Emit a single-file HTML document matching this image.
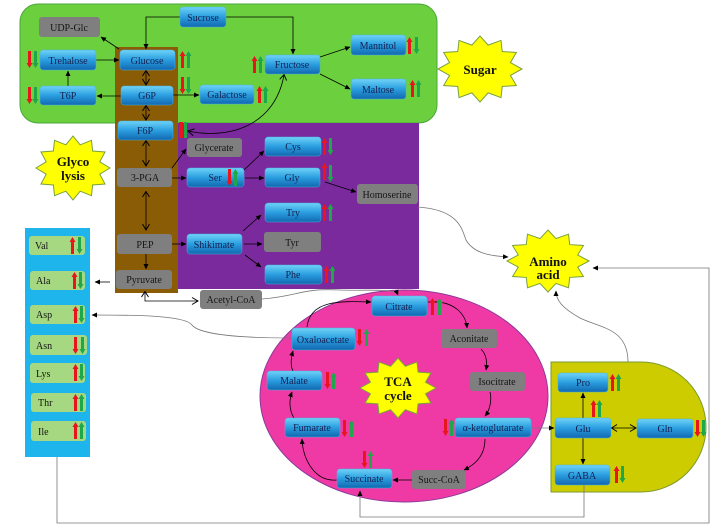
<!DOCTYPE html>
<html><head><meta charset="utf-8"><style>
html,body{margin:0;padding:0;background:#fff;}
svg{display:block;font-family:"Liberation Serif",serif;}
</style></head><body>
<svg width="721" height="529" viewBox="0 0 721 529" xmlns="http://www.w3.org/2000/svg">
<defs>
<linearGradient id="bg" x1="0" y1="0" x2="0" y2="1">
<stop offset="0" stop-color="#6fd3f7"/><stop offset="0.5" stop-color="#2a9ee0"/><stop offset="1" stop-color="#1268b0"/>
</linearGradient>
<marker id="a" markerWidth="6" markerHeight="6" refX="5" refY="3" orient="auto" markerUnits="userSpaceOnUse"><path d="M0,0.5 L5.5,3 L0,5.5z" fill="#000"/></marker>
<marker id="as" markerWidth="8" markerHeight="8" refX="1" refY="4" orient="auto" markerUnits="userSpaceOnUse"><path d="M6,0.5 L0.5,4 L6,7.5" fill="none" stroke="#000"/></marker>
<marker id="ae" markerWidth="8" markerHeight="8" refX="7" refY="4" orient="auto" markerUnits="userSpaceOnUse"><path d="M1,0.5 L7,4 L1,7.5" fill="none" stroke="#000"/></marker>
<g id="ru"><polygon points="1,5 1,17 4,17 4,5 5.5,5 2.5,0 -0.5,5" fill="#e8141e"/></g>
<g id="rd"><polygon points="1,0 1,12 -0.5,12 2.5,17 5.5,12 4,12 4,0" fill="#e8141e"/></g>
<g id="gu"><polygon points="1,5 1,17 4,17 4,5 5.5,5 2.5,0 -0.5,5" fill="#1ea84a"/></g>
<g id="gd"><polygon points="1,0 1,12 -0.5,12 2.5,17 5.5,12 4,12 4,0" fill="#1ea84a"/></g>
<polygon id="star" vector-effect="non-scaling-stroke" fill="#ffff00" stroke="#7aa040" stroke-width="1" points="1,0 .724,.194 .866,.5 .53,.53 .5,.866 .194,.724 0,1 -.194,.724 -.5,.866 -.53,.53 -.866,.5 -.724,.194 -1,0 -.724,-.194 -.866,-.5 -.53,-.53 -.5,-.866 -.194,-.724 0,-1 .194,-.724 .5,-.866 .53,-.53 .866,-.5 .724,-.194"/>
</defs>

<!-- regions -->
<rect x="20" y="4" width="417" height="119" rx="18" fill="#6cd03e" stroke="#4aa63a" stroke-width="1"/>
<rect x="178" y="123" width="241" height="166" fill="#7b2a9e"/>
<rect x="115" y="47" width="63" height="246" fill="#8a5c05"/>
<ellipse cx="404" cy="396" rx="144" ry="106" fill="#ef3aa5" stroke="#8a3a9a" stroke-width="1"/>
<path d="M551,362 H641 A65,65 0 0 1 641,492 H551 Z" fill="#cccc00" stroke="#7a9a30" stroke-width="1"/>
<rect x="25" y="228" width="65" height="229" fill="#1eb4ec"/>

<!-- stars -->
<use href="#star" transform="translate(480,69) scale(42,33)"/>
<use href="#star" transform="translate(73,168) scale(37,32)"/>
<use href="#star" transform="translate(548,261) scale(41,31)"/>
<use href="#star" transform="translate(398,388) scale(38,30)"/>
<g font-weight="bold" font-size="13" text-anchor="middle" fill="#111">
<text x="480" y="74">Sugar</text>
<text x="73" y="166">Glyco</text><text x="73" y="180">lysis</text>
<text x="548" y="266">Amino</text><text x="548" y="279">acid</text>
<text x="398" y="386">TCA</text><text x="398" y="400">cycle</text>
</g>

<!-- connectors black -->
<g fill="none" stroke="#000" stroke-width="0.8">
<path d="M180,17 H146 V49" marker-end="url(#a)"/>
<path d="M226,17 H293 V54" marker-end="url(#a)"/>
<path d="M119,49 L101,37" marker-end="url(#a)"/>
<path d="M96,60 H119" marker-end="url(#a)"/>
<path d="M68,86 V71" marker-end="url(#a)"/>
<path d="M121,96 H97" marker-end="url(#a)"/>
<path d="M146,71 V85" marker-start="url(#as)" marker-end="url(#ae)"/>
<path d="M146,106 V120" marker-start="url(#as)" marker-end="url(#ae)"/>
<path d="M173,95 H199" marker-end="url(#a)"/>
<path d="M320,57 L350,47" marker-end="url(#a)"/>
<path d="M320,74 L350,89" marker-end="url(#a)"/>
<path d="M284,75 C275,125 230,140 188,131" marker-start="url(#as)" marker-end="url(#ae)"/>
<path d="M146,141 V166" marker-start="url(#as)" marker-end="url(#ae)"/>
<path d="M146,192 V230" marker-start="url(#as)" marker-end="url(#ae)"/>
<path d="M172,168 L186,149" marker-end="url(#a)"/>
<path d="M172,178 H186" marker-end="url(#a)"/>
<path d="M244,170 L264,151" marker-end="url(#a)"/>
<path d="M245,178 H264" marker-end="url(#a)"/>
<path d="M325,182 L356,192" marker-end="url(#a)"/>
<path d="M243,231 L261,215" marker-end="url(#a)"/>
<path d="M244,244 H262" marker-end="url(#a)"/>
<path d="M245,255 L261,267" marker-end="url(#a)"/>
<path d="M172,244 H186" marker-end="url(#a)"/>
<path d="M146,254 V269" marker-end="url(#a)"/>
<path d="M110,282 H95" marker-end="url(#a)"/>
<path d="M145,292 V301 H198" marker-start="url(#as)" marker-end="url(#ae)"/>
<path d="M307,327 C310,300 340,301 371,302" marker-end="url(#a)"/>
<path d="M428,302 C455,300 466,315 467,328" marker-end="url(#a)"/>
<path d="M481,349 C487,355 487,364 486,370" marker-end="url(#a)"/>
<path d="M490,392 C492,400 490,410 485,416" marker-end="url(#a)"/>
<path d="M485,439 C485,458 472,466 464,470" marker-end="url(#a)"/>
<path d="M412,480 H393" marker-end="url(#a)"/>
<path d="M337,480 C315,482 303,460 302,439" marker-end="url(#a)"/>
<path d="M294,418 C289,410 289,400 292,392" marker-end="url(#a)"/>
<path d="M293,371 C290,365 291,358 293,351" marker-end="url(#a)"/>
<path d="M583,418 V393" marker-end="url(#a)"/>
<path d="M612,428 H636" marker-start="url(#as)" marker-end="url(#ae)"/>
<path d="M583,438 V464" marker-end="url(#a)"/>
</g>
<!-- connectors gray -->
<g fill="none" stroke="#777" stroke-width="0.8">
<path d="M262,299 C300,296 300,288 340,290 C370,291 395,288 398,295" marker-end="url(#a)"/>
<path d="M292,338 C230,338 198,333 192,325 C185,315 130,315 92,315" marker-end="url(#a)"/>
<path d="M418,207 C460,210 462,230 466,240 C474,254 492,256 508,257" marker-end="url(#a)"/>
<path d="M531,428 H554" marker-end="url(#a)"/>
<path d="M584,485 V517 H360 V491" marker-end="url(#a)"/>
<path d="M57,457 V523 H709 V268 H593" marker-end="url(#a)"/>
<path d="M628,362 C628,328 600,328 580,318 C562,308 556,300 556,291" marker-end="url(#a)"/>
</g>

<!-- blue nodes -->
<g fill="url(#bg)" stroke="#4ab0e0" stroke-width="0.5">
<rect x="180" y="7" width="46" height="20" rx="3"/>
<rect x="120" y="50" width="55" height="20" rx="3"/>
<rect x="40" y="50" width="56" height="20" rx="3"/>
<rect x="40" y="86" width="56" height="19" rx="3"/>
<rect x="121" y="86" width="52" height="19" rx="3"/>
<rect x="200" y="85" width="54" height="19" rx="3"/>
<rect x="265" y="55" width="55" height="19" rx="3"/>
<rect x="351" y="35" width="55" height="20" rx="3"/>
<rect x="351" y="79" width="55" height="20" rx="3"/>
<rect x="118" y="121" width="55" height="19" rx="3"/>
<rect x="187" y="168" width="57" height="19" rx="3"/>
<rect x="265" y="137" width="56" height="19" rx="3"/>
<rect x="265" y="168" width="55" height="19" rx="3"/>
<rect x="265" y="203" width="56" height="19" rx="3"/>
<rect x="265" y="265" width="57" height="19" rx="3"/>
<rect x="187" y="234" width="55" height="20" rx="3"/>
<rect x="372" y="296" width="55" height="20" rx="3"/>
<rect x="292" y="328" width="63" height="22" rx="3"/>
<rect x="267" y="371" width="55" height="19" rx="3"/>
<rect x="285" y="418" width="55" height="19" rx="3"/>
<rect x="455" y="418" width="76" height="19" rx="3"/>
<rect x="337" y="469" width="55" height="19" rx="3"/>
<rect x="558" y="373" width="50" height="19" rx="3"/>
<rect x="555" y="418" width="56" height="20" rx="3"/>
<rect x="637" y="419" width="56" height="19" rx="3"/>
<rect x="555" y="465" width="55" height="20" rx="3"/>
</g>
<!-- gray nodes -->
<g fill="#7f7f7f">
<rect x="39" y="17" width="61" height="20" rx="3"/>
<rect x="187" y="138" width="55" height="19" rx="3"/>
<rect x="117" y="168" width="55" height="19" rx="3"/>
<rect x="357" y="184" width="61" height="20" rx="3"/>
<rect x="264" y="232" width="57" height="20" rx="3"/>
<rect x="117" y="234" width="55" height="20" rx="3"/>
<rect x="116" y="270" width="56" height="19" rx="3"/>
<rect x="200" y="290" width="62" height="19" rx="3"/>
<rect x="441" y="329" width="56" height="19" rx="3"/>
<rect x="470" y="372" width="55" height="19" rx="3"/>
<rect x="412" y="470" width="54" height="19" rx="3"/>
</g>
<!-- aa items -->
<g fill="#a5d880">
<rect x="29" y="236" width="56" height="19" rx="3"/>
<rect x="30" y="271" width="55" height="19" rx="3"/>
<rect x="30" y="305" width="55" height="19" rx="3"/>
<rect x="30" y="335" width="57" height="20" rx="3"/>
<rect x="30" y="363" width="55" height="20" rx="3"/>
<rect x="31" y="393" width="55" height="19" rx="3"/>
<rect x="31" y="421" width="55" height="20" rx="3"/>
</g>

<!-- labels -->
<g font-size="10" text-anchor="middle" fill="#152050">
<text x="203" y="21">Sucrose</text>
<text x="147" y="64">Glucose</text>
<text x="68" y="64">Trehalose</text>
<text x="68" y="99">T6P</text>
<text x="147" y="99">G6P</text>
<text x="227" y="98">Galactose</text>
<text x="292" y="68">Fructose</text>
<text x="378" y="49">Mannitol</text>
<text x="378" y="93">Maltose</text>
<text x="145" y="134">F6P</text>
<text x="215" y="181">Ser</text>
<text x="293" y="150">Cys</text>
<text x="292" y="181">Gly</text>
<text x="293" y="216">Try</text>
<text x="293" y="278">Phe</text>
<text x="214" y="248">Shikimate</text>
<text x="399" y="310">Citrate</text>
<text x="323" y="343">Oxaloacetate</text>
<text x="294" y="384">Malate</text>
<text x="312" y="431">Fumarate</text>
<text x="493" y="431">α-ketoglutarate</text>
<text x="364" y="482">Succinate</text>
<text x="583" y="386">Pro</text>
<text x="583" y="432">Glu</text>
<text x="665" y="432">Gln</text>
<text x="582" y="479">GABA</text>
</g>
<g font-size="10" text-anchor="middle" fill="#151515">
<text x="69" y="31">UDP-Glc</text>
<text x="214" y="151">Glycerate</text>
<text x="145" y="181">3-PGA</text>
<text x="387" y="198">Homoserine</text>
<text x="292" y="246">Tyr</text>
<text x="145" y="248">PEP</text>
<text x="144" y="283">Pyruvate</text>
<text x="231" y="303">Acetyl-CoA</text>
<text x="469" y="342">Aconitate</text>
<text x="497" y="385">Isocitrate</text>
<text x="439" y="483">Succ-CoA</text>
</g>
<g font-size="10" fill="#151515">
<text x="35" y="249">Val</text>
<text x="36" y="284">Ala</text>
<text x="36" y="318">Asp</text>
<text x="36" y="349">Asn</text>
<text x="36" y="377">Lys</text>
<text x="38" y="406">Thr</text>
<text x="38" y="435">Ile</text>
</g>

<!-- up/down arrows -->
<use href="#ru" x="180" y="51"/><use href="#gu" x="186" y="51"/>
<use href="#rd" x="180" y="77"/><use href="#gd" x="186" y="77"/>
<use href="#rd" x="27" y="51"/><use href="#gd" x="33" y="51"/>
<use href="#rd" x="27" y="87"/><use href="#gd" x="33" y="87"/>
<use href="#ru" x="257" y="86"/><use href="#gu" x="263" y="86"/>
<use href="#ru" x="252" y="56"/><use href="#gu" x="258" y="56"/>
<use href="#ru" x="407" y="37"/><use href="#gd" x="414" y="37"/>
<use href="#ru" x="410" y="80"/><use href="#gu" x="416" y="80"/>
<rect x="179" y="122" width="4" height="16" fill="#e8141e"/><rect x="184" y="122" width="3" height="16" fill="#1ea84a"/>
<use href="#ru" x="322" y="138"/><use href="#gd" x="328" y="138"/>
<use href="#ru" x="322" y="163"/><use href="#gd" x="328" y="165"/>
<use href="#rd" x="227" y="169"/><use href="#gu" x="233" y="169"/>
<use href="#ru" x="322" y="204"/><use href="#gu" x="328" y="204"/>
<use href="#ru" x="324" y="266"/><use href="#gu" x="330" y="266"/>
<use href="#ru" x="70" y="237"/><use href="#gd" x="77" y="237"/>
<use href="#ru" x="72" y="272"/><use href="#gd" x="78" y="272"/>
<use href="#ru" x="73" y="306"/><use href="#gd" x="79" y="306"/>
<use href="#rd" x="73" y="337"/><use href="#gd" x="80" y="337"/>
<use href="#ru" x="73" y="364"/><use href="#gd" x="79" y="364"/>
<use href="#ru" x="73" y="394"/><use href="#gu" x="79" y="394"/>
<use href="#ru" x="73" y="422"/><use href="#gu" x="79" y="422"/>
<use href="#ru" x="430" y="298"/><use href="#gu" x="437" y="298"/>
<use href="#rd" x="357" y="329"/><use href="#gu" x="364" y="329"/>
<use href="#rd" x="325" y="372"/><use href="#gu" x="331" y="372"/>
<use href="#rd" x="342" y="420"/><use href="#gu" x="349" y="420"/>
<use href="#rd" x="443" y="419"/><use href="#gu" x="449" y="419"/>
<use href="#rd" x="362" y="451"/><use href="#gu" x="368" y="451"/>
<use href="#ru" x="610" y="374"/><use href="#gu" x="616" y="374"/>
<use href="#ru" x="591" y="400"/><use href="#gu" x="597" y="400"/>
<use href="#rd" x="695" y="420"/><use href="#gd" x="701" y="420"/>
<use href="#ru" x="614" y="466"/><use href="#gd" x="620" y="466"/>
</svg>
</body></html>
